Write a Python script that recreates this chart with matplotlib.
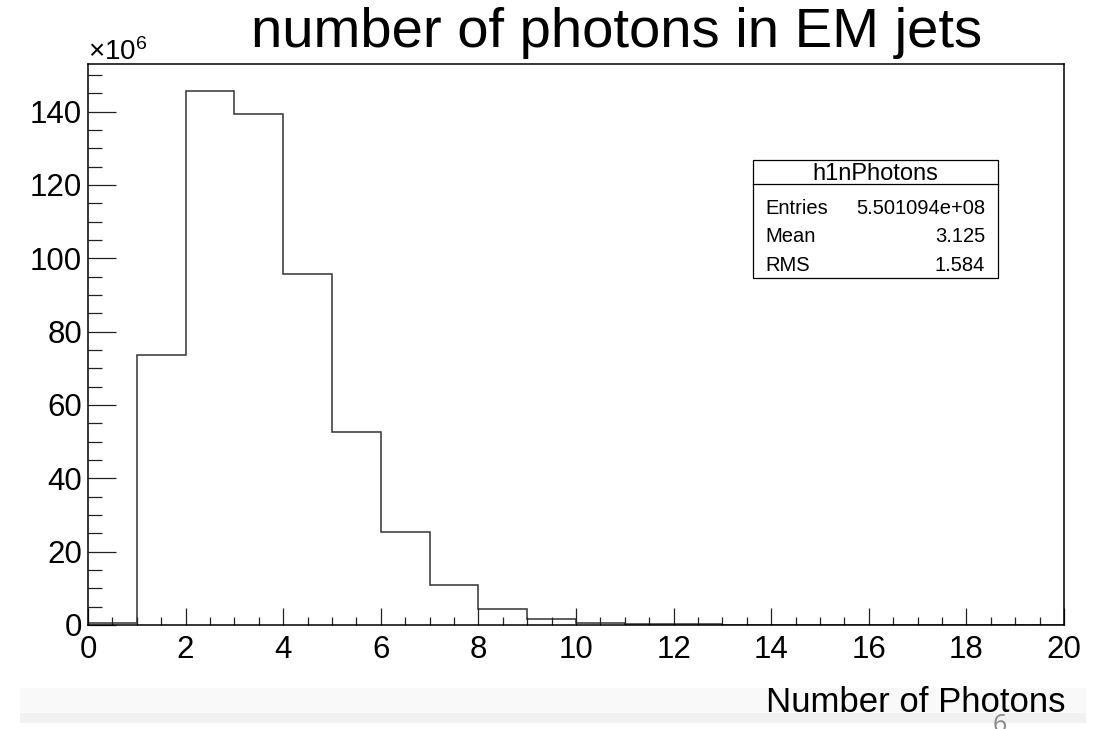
import matplotlib
matplotlib.use("Agg")
import matplotlib.pyplot as plt
from matplotlib.patches import Rectangle
from matplotlib.lines import Line2D
import numpy as np

# Histogram contents (entries per integer bin, in units of 1e6)
bin_edges = np.arange(0, 21, 1)
counts_millions = [0.6, 73.5, 145.6, 139.4, 95.7, 52.6, 25.3, 11.0, 4.4, 1.7,
                   0.6, 0.3, 0.3, 0.0, 0.0, 0.0, 0.0, 0.0, 0.0, 0.0]

hist_name = "h1nPhotons"
stat_labels = ["Entries", "Mean", "RMS"]
stat_values = ["5.501094e+08", "3.125", "1.584"]

title = "number of photons in EM jets"
xlabel = "Number of Photons"
page_number = "6"

W, H = 1110, 729
plt.rcParams["font.family"] = ["Liberation Sans", "DejaVu Sans"]
plt.rcParams["mathtext.fontset"] = "custom"
plt.rcParams["mathtext.rm"] = "Liberation Sans"


def fx(x):
    return x / W


def fy(y):
    return 1 - y / H


fig = plt.figure(figsize=(W / 100, H / 100), dpi=100)
ax = fig.add_axes([fx(88), fy(625), (1064 - 88) / W, (625 - 64.3) / H])

ax.stairs(counts_millions, bin_edges, color="#333333", linewidth=1.1, baseline=0)

ax.set_xlim(0, 20)
ax.set_ylim(0, 1.05 * max(counts_millions))
ax.set_xticks(np.arange(0, 21, 2))
ax.set_xticks(np.arange(0, 20.01, 0.5), minor=True)
ax.set_yticks(np.arange(0, 141, 20))
ax.set_yticks(np.arange(0, 152, 5), minor=True)

ax.tick_params(axis="both", which="both", direction="in", top=False, right=False,
               labelsize=22.5, width=0.9, color="#222222")
ax.tick_params(axis="x", which="major", length=12.5, pad=7)
ax.tick_params(axis="x", which="minor", length=6.1)
ax.tick_params(axis="y", which="major", length=20.4, pad=4.3)
ax.tick_params(axis="y", which="minor", length=10)
for s in ax.spines.values():
    s.set_linewidth(1.1)
    s.set_color("black")

# slide footer band behind the axis title
fig.patches.append(Rectangle((fx(20), fy(713)), (1086 - 20) / W, 25 / H,
                             transform=fig.transFigure, facecolor="#f9f9f9",
                             edgecolor="none", zorder=0))
fig.patches.append(Rectangle((fx(20), fy(723)), (1086 - 20) / W, 10 / H,
                             transform=fig.transFigure, facecolor="#f1f1f1",
                             edgecolor="none", zorder=0))

fig.text(fx(1066), fy(712), xlabel, ha="right", va="baseline", fontsize=25)
fig.text(fx(1000), fy(713), page_number, ha="center", va="top", fontsize=18,
         color="#888888", family=["Open Sans", "DejaVu Sans"])

fig.text(fx(617), fy(47), title, ha="center", va="baseline", fontsize=40.5)
fig.text(fx(88), fy(60), r"$\mathregular{\times10^{6}}$", ha="left",
         va="baseline", fontsize=20)

# statistics box
bx0, bx1, by0, by1 = 753.3, 998.3, 160, 278.3
fig.patches.append(Rectangle((fx(bx0), fy(by1)), (bx1 - bx0) / W, (by1 - by0) / H,
                             transform=fig.transFigure, facecolor="white",
                             edgecolor="black", linewidth=0.9, zorder=3))
fig.lines.append(Line2D([fx(bx0), fx(bx1)], [fy(184), fy(184)],
                        transform=fig.transFigure, color="black",
                        linewidth=0.9, zorder=4))
fig.text(fx((bx0 + bx1) / 2), fy(180), hist_name, ha="center", va="baseline",
         fontsize=17, zorder=5)
for lab, val, yb in zip(stat_labels, stat_values, [213.5, 242, 270.5]):
    fig.text(fx(765), fy(yb), lab, ha="left", va="baseline", fontsize=14.5, zorder=5)
    fig.text(fx(985), fy(yb), val, ha="right", va="baseline", fontsize=14.5, zorder=5)

fig.savefig("out.png", dpi=100)
